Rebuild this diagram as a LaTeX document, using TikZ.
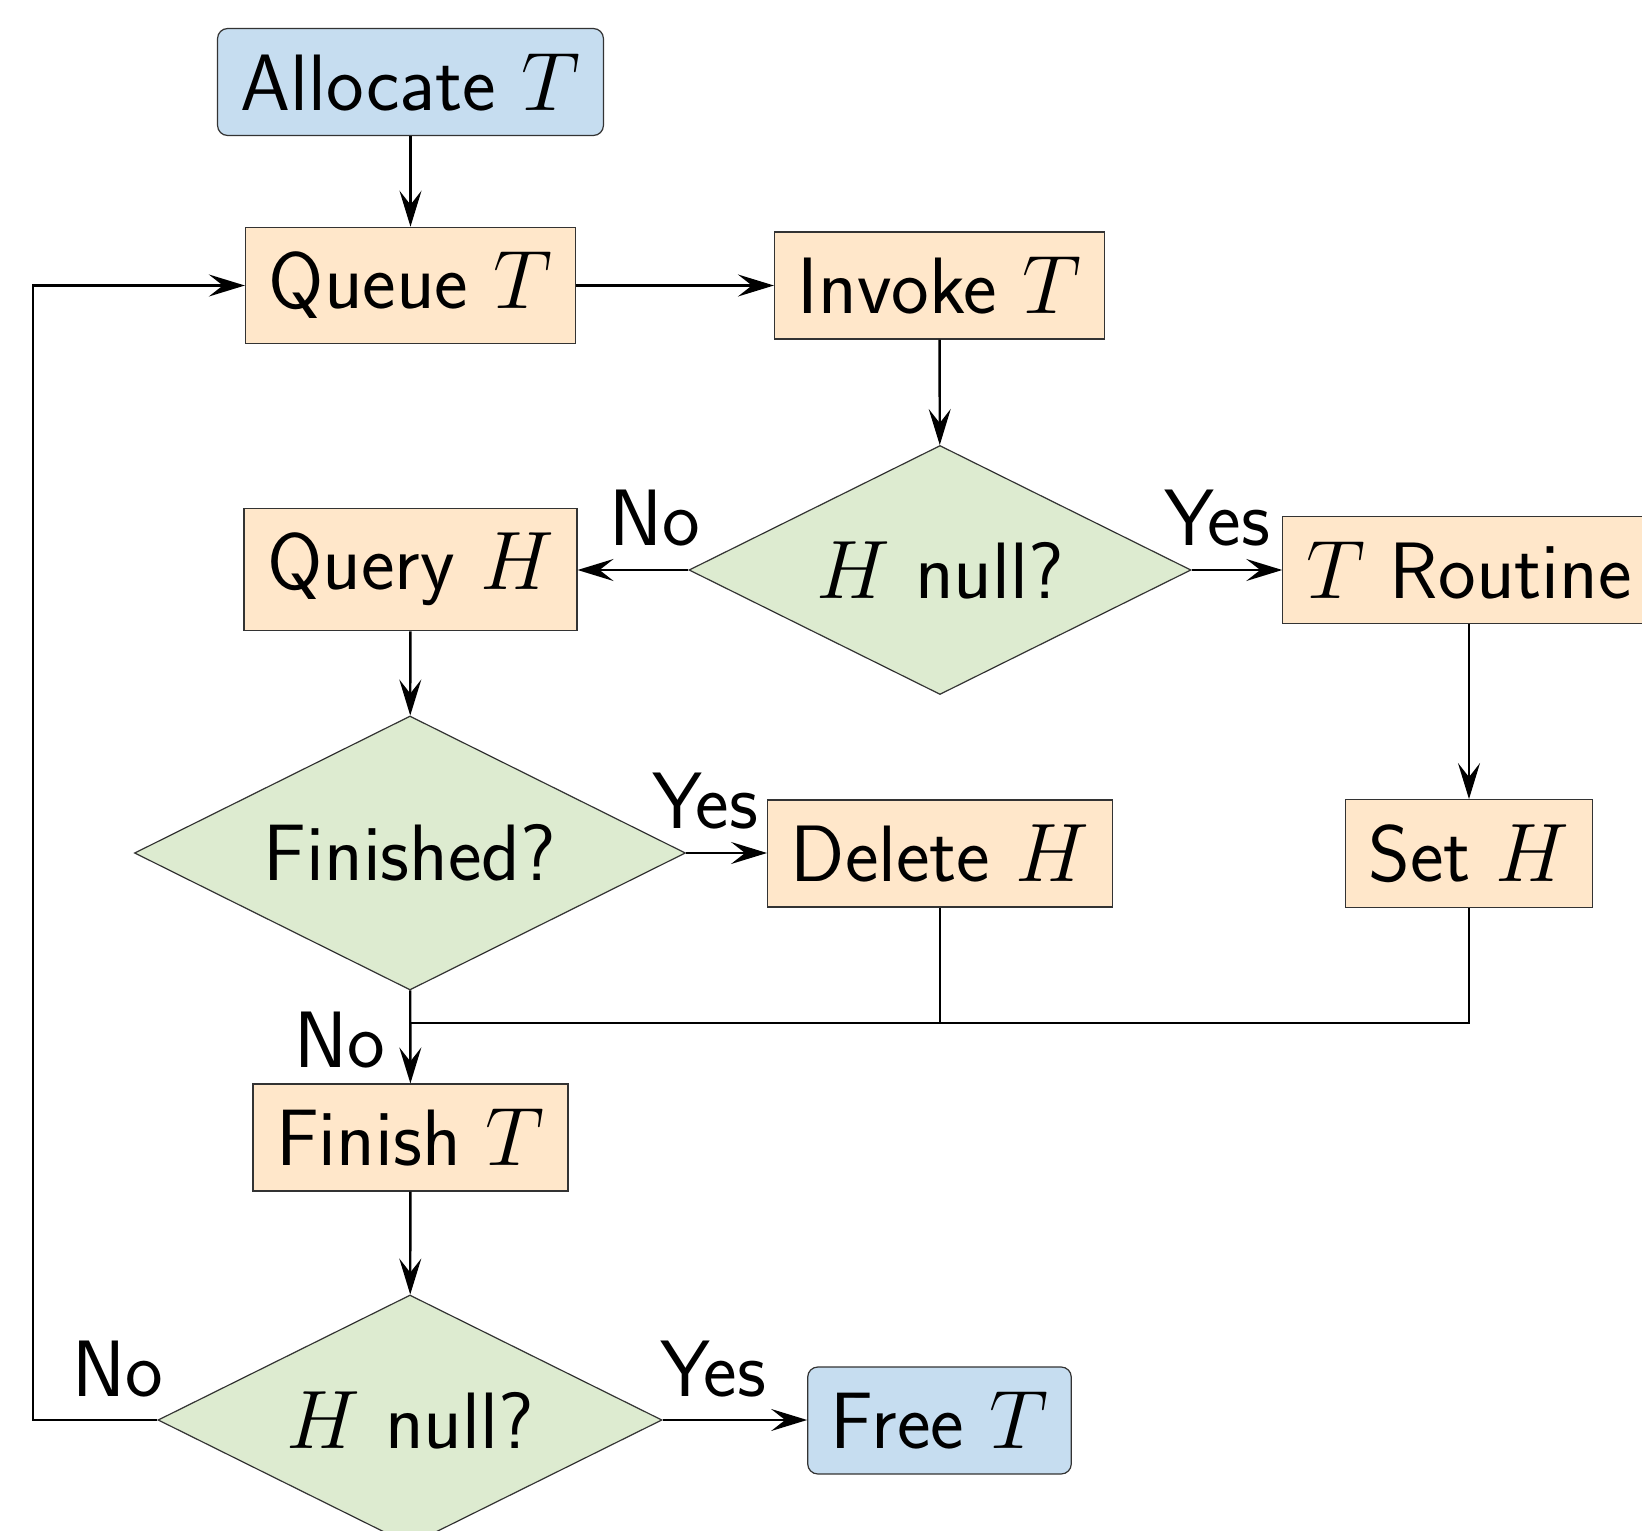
\documentclass[tikz,border=0pt]{standalone}
\usetikzlibrary{shapes.geometric,arrows.meta}
\definecolor{termfill}{RGB}{198,221,240}
\definecolor{procfill}{RGB}{255,231,202}
\definecolor{decfill}{RGB}{221,235,208}
\tikzset{
  base/.style={font=\fontsize{20}{24}\selectfont\sffamily, inner xsep=5.8pt, inner ysep=6.2pt, draw=black!80, line width=0.3pt},
  term/.style={base, rectangle, rounded corners=2.5pt, fill=termfill},
  proc/.style={base, rectangle, fill=procfill},
  decision/.style={base, diamond, aspect=2, inner sep=0pt, fill=decfill},
  lbl/.style={font=\fontsize{20}{24}\selectfont\sffamily, inner sep=0pt},
  flow/.style={line width=0.6pt, -{Stealth[length=9pt,width=5.5pt,inset=3.5pt]}},
  wire/.style={line width=0.6pt},
}
\begin{document}
\begin{tikzpicture}[x=0.25pt,y=-0.25pt]
\useasboundingbox (0,0) rectangle (1642,1531);
\clip (0,0) rectangle (1642,1531);

% blocks
\node[term] (alloc) at (410.5,82) {Allocate $T$};
\node[proc] (queue) at (410.5,285.5) {Queue $T$};
\node[proc] (invoke) at (939.5,285.5) {Invoke $T$};
\node[decision, minimum width=125.5pt, minimum height=62.25pt] (d1) at (940,570) {$H$ null?};
\node[proc] (query) at (410.5,569.5) {Query $H$};
\node[proc] (routine) at (1469,570) {$T$ Routine};
\node[decision, minimum width=137.75pt, minimum height=68.5pt] (finished) at (410,853) {Finished?};
\node[proc] (delete) at (940,853.5) {Delete $H$};
\node[proc] (seth) at (1469,853.5) {Set $H$};
\node[proc] (finish) at (410.5,1137.5) {Finish $T$};
\node[decision, minimum width=126pt, minimum height=62.5pt] (d3) at (410,1420) {$H$ null?};
\node[term] (free) at (939.5,1420.5) {Free $T$};

% branch labels
\node[lbl] (l1) at (655,518) {No};
\node[lbl] (l2) at (1217,518) {Yes};
\node[lbl] (l3) at (705,801) {Yes};
\node[lbl] (l4) at (340,1040) {No};
\node[lbl] (l5) at (118,1369) {No};
\node[lbl] (l6) at (713,1369) {Yes};

% connectors
\coordinate (join) at (410,1023);
\coordinate (loop) at (33,1420);
\draw[flow] (alloc) -- (queue);
\draw[flow] (queue) -- (invoke);
\draw[flow] (invoke) -- (d1);
\draw[flow] (d1.west) -- (d1.west -| query.east);
\draw[flow] (d1.east) -- (d1.east -| routine.west);
\draw[flow] (query) -- (finished);
\draw[flow] (finished.east) -- (finished.east -| delete.west);
\draw[flow] (routine) -- (seth);
\draw[flow] (finished) -- (finish);
\draw[wire] (delete.south) |- (join);
\draw[wire] (seth.south) |- (join);
\draw[flow] (finish) -- (d3);
\draw[flow] (d3.east) -- (d3.east -| free.west);
\draw[flow] (d3.west) -- (loop) |- (queue.west);
\end{tikzpicture}
\end{document}
